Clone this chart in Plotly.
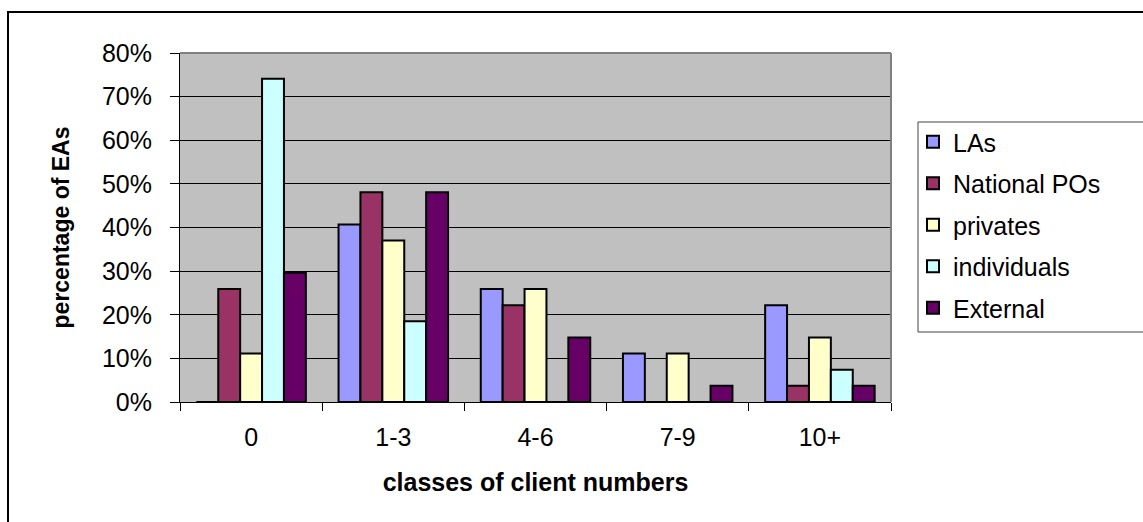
import plotly.graph_objects as go

categories = ["0", "1-3", "4-6", "7-9", "10+"]
series_names = ["LAs", "National POs", "privates", "individuals", "External"]
las = [0.0, 0.407, 0.259, 0.111, 0.222]
national_pos = [0.259, 0.481, 0.222, 0.0, 0.037]
privates = [0.111, 0.370, 0.259, 0.111, 0.148]
individuals = [0.741, 0.185, 0.0, 0.0, 0.074]
external = [0.296, 0.481, 0.148, 0.037, 0.037]
colors = ["#9999FF", "#993366", "#FFFFCC", "#CCFFFF", "#660066"]

values = [las, national_pos, privates, individuals, external]

FONT = "Liberation Sans, Arial, sans-serif"

fig = go.Figure()
for name, vals, col in zip(series_names, values, colors):
    fig.add_trace(go.Bar(
        x=categories, y=vals, name=name, legendgroup=name,
        marker=dict(color=col, line=dict(color="black", width=2)),
    ))

W, H = 1143, 522
L, R, T, B = 180, 891, 53, 402
pw, ph = R - L, B - T

def px(x):
    return (x - L) / pw

def py(y):
    return (B - y) / ph

fig.update_layout(
    width=W, height=H,
    margin=dict(l=L, r=W - R, t=T, b=H - B),
    paper_bgcolor="white",
    plot_bgcolor="#C0C0C0",
    barmode="group",
    bargap=0.23,
    bargroupgap=0,
    font=dict(family=FONT, size=25, color="black"),
    showlegend=True,
    legend=dict(
        x=px(913), y=py(119), xanchor="left", yanchor="top",
        borderwidth=0, bgcolor="rgba(0,0,0,0)",
        font=dict(family=FONT, size=25, color="black"),
        tracegroupgap=6,
        itemsizing="constant",
    ),
    xaxis=dict(
        type="category",
        showline=True, linecolor="black", linewidth=1,
        ticks="outside", tickson="boundaries", ticklen=8, tickcolor="black",
        ticklabelstandoff=13,
        showgrid=False,
        title=dict(text="<b>classes of client numbers</b>", standoff=23,
                   font=dict(family=FONT, size=25)),
    ),
    yaxis=dict(
        range=[0, 0.8], dtick=0.1, tickformat=".0%",
        showline=True, linecolor="black", linewidth=1,
        ticks="outside", ticklen=9, tickcolor="black",
        ticklabelstandoff=13,
        showgrid=True, gridcolor="black", gridwidth=1,
        zeroline=False,
        title=dict(text="<b>percentage of EAs</b>", standoff=25,
                   font=dict(family=FONT, size=23)),
    ),
    shapes=[
        dict(type="rect", xref="paper", yref="paper",
             x0=px(8), x1=px(1160), y0=py(540), y1=py(12),
             line=dict(color="black", width=2), layer="below"),
        dict(type="rect", xref="paper", yref="paper",
             x0=px(918), x1=px(1160), y0=py(332), y1=py(122),
             line=dict(color="#444444", width=1), layer="below"),
        dict(type="line", xref="paper", yref="paper",
             x0=0, x1=1, y0=1, y1=1, line=dict(color="#808080", width=2)),
        dict(type="line", xref="paper", yref="paper",
             x0=1, x1=1, y0=0, y1=1, line=dict(color="#808080", width=2)),
    ],
)

fig.write_html("out.html")
